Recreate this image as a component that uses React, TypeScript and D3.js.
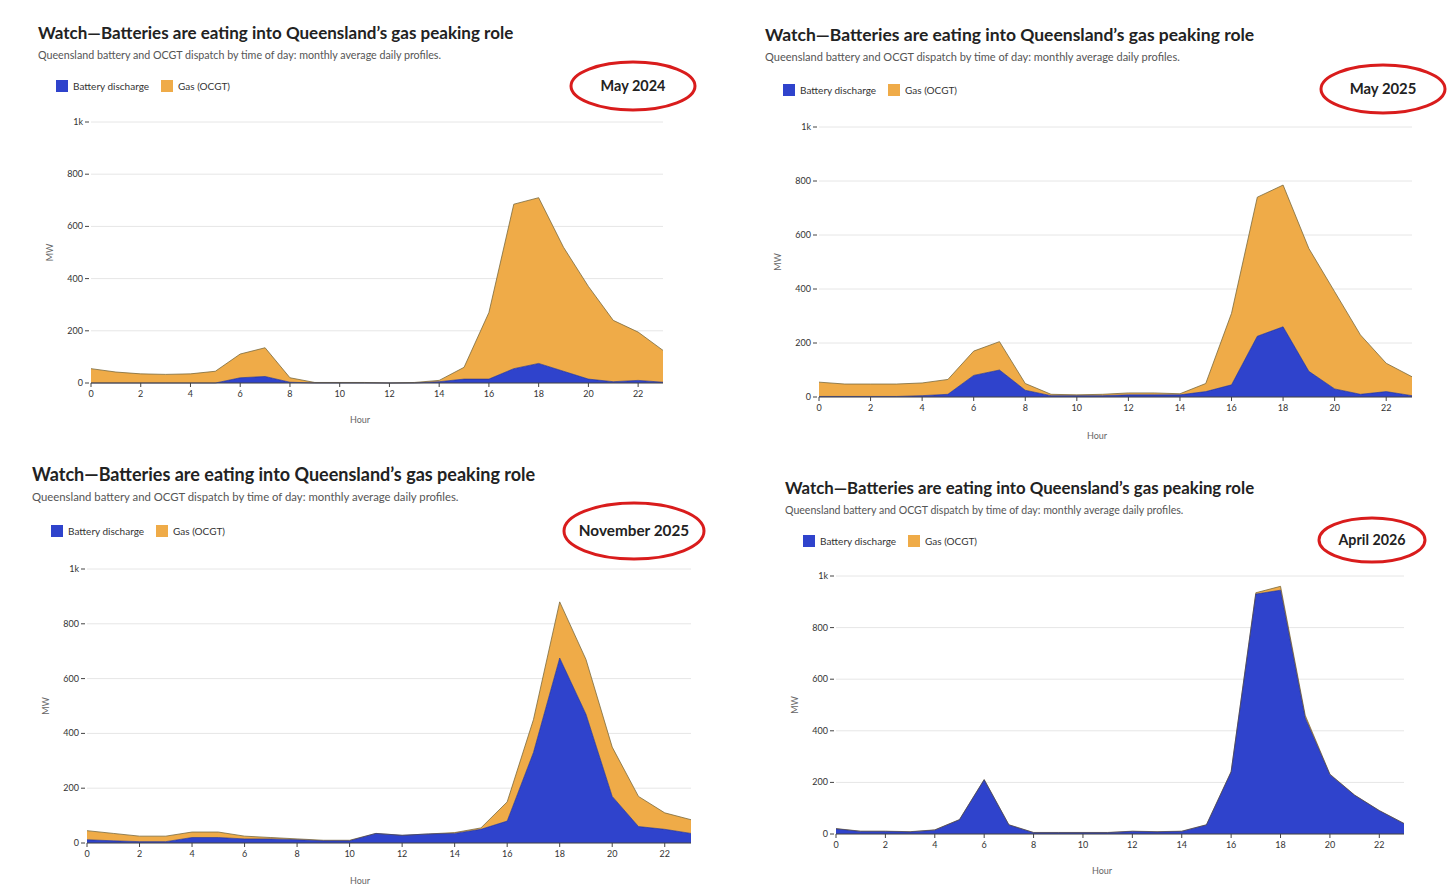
import React from "react";
import * as d3 from "d3";

const hours = d3.range(24);
const xTicks = [0, 2, 4, 6, 8, 10, 12, 14, 16, 18, 20, 22];
const yTicks = [0, 200, 400, 600, 800, 1000];
const yTickLabels = ["0", "200", "400", "600", "800", "1k"];

const may24Total = [55, 42, 35, 33, 35, 45, 111, 135, 20, 2, 2, 2, 0, 2, 10, 60, 270, 685, 710, 520, 370, 240, 195, 125];
const may24Battery = [0, 0, 0, 0, 0, 0, 20, 25, 3, 0, 0, 0, 0, 0, 5, 15, 15, 55, 75, 45, 15, 5, 10, 3];
const may25Total = [55, 48, 48, 48, 52, 65, 170, 205, 50, 10, 8, 10, 15, 15, 12, 50, 310, 740, 785, 550, 390, 230, 125, 75];
const may25Battery = [2, 2, 2, 2, 5, 10, 80, 100, 25, 5, 5, 5, 8, 8, 8, 20, 45, 225, 260, 95, 30, 10, 20, 5];
const nov25Total = [45, 35, 25, 25, 40, 40, 25, 20, 15, 10, 10, 35, 28, 33, 38, 55, 150, 450, 880, 670, 350, 170, 110, 85];
const nov25Battery = [12, 8, 5, 5, 20, 20, 15, 15, 12, 8, 8, 35, 28, 33, 35, 50, 80, 330, 675, 470, 170, 60, 50, 35];
const apr26Battery = [20, 10, 10, 8, 15, 55, 210, 35, 5, 5, 5, 5, 10, 8, 10, 35, 240, 930, 945, 450, 230, 150, 90, 40];
const apr26Gas = [1, 1, 1, 1, 1, 1, 1, 1, 1, 1, 1, 1, 1, 1, 1, 1, 2, 5, 15, 10, 2, 1, 1, 1];

const title = "Watch—Batteries are eating into Queensland’s gas peaking role";
const subtitle = "Queensland battery and OCGT dispatch by time of day: monthly average daily profiles.";
const BAT = "#2f43cc";
const GAS = "#efab48";

type P = {
  battery: number[]; gas: number[]; label: string;
  tx: number; ty: number; fs: number; lx: number; ly: number;
  ex: number; ey: number; erx: number; ery: number;
  x0: number; x1: number; y0: number; y1: number; hourY: number; hourX: number;
};

function Panel(p: P) {
  const x = d3.scaleLinear().domain([0, 23]).range([p.x0, p.x1]);
  const y = d3.scaleLinear().domain([0, 1000]).range([p.y0, p.y1]);
  const rows = hours.map((h) => ({ h, b: p.battery[h], g: p.gas[h] }));
  const st = d3.stack<any>().keys(["b", "g"])(rows as any);
  const area = d3.area<any>().x((d) => x(d.data.h)).y0((d) => y(d[0])).y1((d) => y(d[1]));
  const line = d3.line<any>().x((d) => x(d.data.h)).y((d) => y(d[1]));
  const f = "Lato, 'Open Sans', sans-serif";
  return (
    <g fontFamily={f}>
      <text x={p.tx} y={p.ty} fontSize={p.fs} fontWeight={700} fill="#222">{title}</text>
      <text x={p.tx} y={p.ty + 20} fontSize={p.fs * 0.63} fill="#555">{subtitle}</text>
      <rect x={p.lx} y={p.ly - 6} width={12} height={12} fill={BAT} />
      <text x={p.lx + 17} y={p.ly + 4} fontSize={10} fill="#333">Battery discharge</text>
      <rect x={p.lx + 105} y={p.ly - 6} width={12} height={12} fill={GAS} />
      <text x={p.lx + 122} y={p.ly + 4} fontSize={10} fill="#333">Gas (OCGT)</text>
      <ellipse cx={p.ex} cy={p.ey} rx={p.erx} ry={p.ery} fill="none" stroke="#d91c1c" strokeWidth={3} />
      <text x={p.ex} y={p.ey + 5} textAnchor="middle" fontSize={p.fs * 0.85} fontWeight={700} fill="#222">{p.label}</text>
      {yTicks.map((t, i) => (
        <g key={t}>
          <line x1={p.x0} x2={p.x1} y1={y(t)} y2={y(t)} stroke="#e6e6e6" />
          <line x1={p.x0 - 6} x2={p.x0 - 2} y1={y(t)} y2={y(t)} stroke="#444" />
          <text x={p.x0 - 8} y={y(t) + 3} textAnchor="end" fontSize={9} fill="#333">{yTickLabels[i]}</text>
        </g>
      ))}
      <path d={area(st[1]) || ""} fill={GAS} />
      <path d={area(st[0]) || ""} fill={BAT} />
      <path d={line(st[1]) || ""} fill="none" stroke="#7a6a3c" strokeWidth={0.8} />
      <path d={line(st[0]) || ""} fill="none" stroke="#1e2a80" strokeWidth={0.6} />
      <line x1={p.x0} x2={p.x1} y1={p.y0} y2={p.y0} stroke="#444" />
      {xTicks.map((t) => (
        <g key={t}>
          <line x1={x(t)} x2={x(t)} y1={p.y0} y2={p.y0 + 4} stroke="#444" />
          <text x={x(t)} y={p.y0 + 14} textAnchor="middle" fontSize={9} fill="#333">{t}</text>
        </g>
      ))}
      <text transform={`translate(${p.x0 - 38},${(p.y0 + p.y1) / 2}) rotate(-90)`} textAnchor="middle" fontSize={9} fill="#666">MW</text>
      <text x={p.hourX} y={p.hourY} textAnchor="middle" fontSize={9} fill="#666">Hour</text>
    </g>
  );
}

const sub = (a: number[], b: number[]) => a.map((v, i) => Math.max(0, v - b[i]));

export default function App() {
  return (
    <svg width={1456} height={887} style={{ position: "absolute", left: 0, top: 0, background: "#fff" }}>
      <Panel battery={may24Battery} gas={sub(may24Total, may24Battery)} label="May 2024"
        tx={38} ty={39} fs={17} lx={56} ly={86} ex={633} ey={86} erx={62} ery={24}
        x0={91} x1={663} y0={383} y1={122} hourY={423} hourX={360} />
      <Panel battery={may25Battery} gas={sub(may25Total, may25Battery)} label="May 2025"
        tx={765} ty={41} fs={17.5} lx={783} ly={90} ex={1383} ey={89} erx={62} ery={24}
        x0={819} x1={1412} y0={397} y1={127} hourY={439} hourX={1097} />
      <Panel battery={nov25Battery} gas={sub(nov25Total, nov25Battery)} label="November 2025"
        tx={32} ty={481} fs={18} lx={51} ly={531} ex={634} ey={531} erx={70} ery={28}
        x0={87} x1={691} y0={843} y1={569} hourY={884} hourX={360} />
      <Panel battery={apr26Battery} gas={apr26Gas} label="April 2026"
        tx={785} ty={494} fs={16.8} lx={803} ly={541} ex={1372} ey={540} erx={53} ery={22}
        x0={836} x1={1404} y0={834} y1={576} hourY={874} hourX={1102} />
    </svg>
  );
}
